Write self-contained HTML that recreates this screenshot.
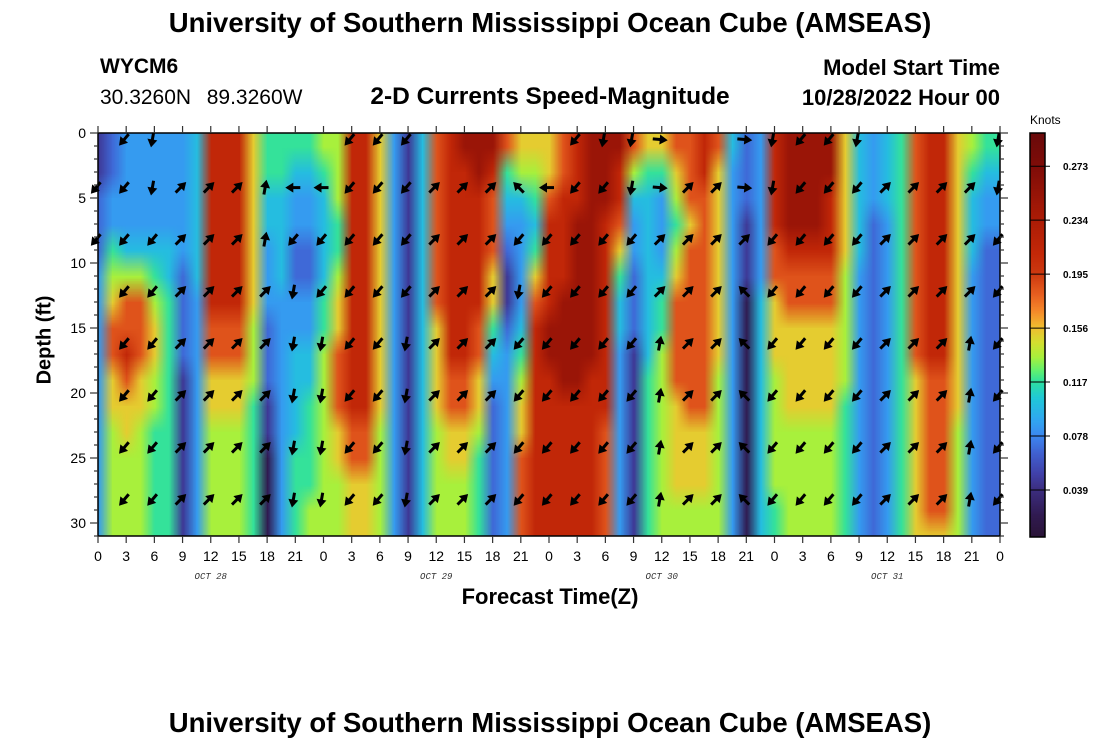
<!DOCTYPE html>
<html><head><meta charset="utf-8">
<style>
html,body{margin:0;padding:0;background:#fff;}
body{width:1100px;height:750px;position:relative;overflow:hidden;font-family:"Liberation Sans",Arial,sans-serif;color:#000;}
.t{position:absolute;white-space:nowrap;}
#clip{position:absolute;left:98px;top:133px;width:902px;height:403px;overflow:hidden;}
#heat{position:absolute;left:-7.05px;top:0;width:916.5px;height:416px;}
#cbar{position:absolute;left:1030px;top:133px;width:15px;height:404px;}
svg{position:absolute;left:0;top:0;}
</style></head><body>
<div class="t" style="left:0;width:1100px;text-align:center;top:7px;font-size:27.5px;font-weight:bold;">University of Southern Mississippi Ocean Cube (AMSEAS)</div>
<div class="t" style="left:100px;top:55px;font-size:21px;font-weight:bold;">WYCM6</div>
<div class="t" style="left:100px;top:86px;font-size:21px;word-spacing:2px;">30.3260N&nbsp;&nbsp;89.3260W</div>
<div class="t" style="left:0;width:1100px;text-align:center;top:83px;font-size:24.5px;font-weight:bold;">2-D Currents Speed-Magnitude</div>
<div class="t" style="right:100px;top:55px;font-size:22px;font-weight:bold;">Model Start Time</div>
<div class="t" style="right:100px;top:85px;font-size:22px;font-weight:bold;">10/28/2022 Hour 00</div>
<div class="t" style="left:0;width:1100px;text-align:center;top:707px;font-size:27.5px;font-weight:bold;">University of Southern Mississippi Ocean Cube (AMSEAS)</div>
<div class="t" style="left:45px;top:340px;font-size:20px;font-weight:bold;transform:translate(-50%,-50%) rotate(-90deg);">Depth (ft)</div>
<div class="t" style="left:0;width:1100px;text-align:center;top:584px;font-size:22px;font-weight:bold;">Forecast Time(Z)</div>
<div class="t" style="left:1030px;top:113px;font-size:12px;">Knots</div>
<div id="clip"><canvas id="heat" width="65" height="16"></canvas></div>
<canvas id="cbar" width="1" height="404"></canvas>
<svg id="ov" width="1100" height="750"></svg>
<script>
// speed levels (knots) indexed by code character
const levelCodes = "0123456789a";
const levelValues = [0.02,0.045,0.068,0.085,0.10,0.118,0.135,0.152,0.185,0.212,0.25];
// columns every 1.5 h (t=0..96), each string = depth rows 0-2,2-4,...,30-32 ft
const speedColumns = [
"1122233333333333","2233567887766666","3333468898776666","3333468887766666","3333456776655555",
"3333445555555555","3333322221111111","4444443333333333","9999999887766666","9999999887766666",
"9999999887766666","7777777666555555","5544333222110000","5544443333333333","5433223344445555",
"5433223344555566","6544445566666666","6665567788877666","9999999999988777","9999999999988777",
"7777777777766666","3333333333333333","1111111111111111","4444444444444444","8888888777766666",
"9999999998877666","a999999998877666","aa99999887765555","a988877543222222","8543211233333333",
"7643333456778888","7654578999999999","7789999aa9999999","889999aaaa999999","999aaaaaaa999999",
"aaaaaaaaa9999999","aaa9999999988888","a998754433333333","8643322211111111","7544444445555555",
"7533345566666666","8765678888777766","8887888888877766","9988888888877766","8777777776666666",
"4333333333333333","2221110000000000","3333334444444444","9999887776666655","aaaa988777766666",
"aaaa988777766666","aaaa988777766666","aa99988777766666","7777766666555555","4444433333333333",
"3332222222222222","4443333333333333","5555555555555555","8888888887777777","9999999998888887",
"9999999998888887","7777777777766666","6544433333333333","5433222222222222","5433222222222222"];
const columnStepHours = 1.5;
// arrows: times every 3 h, rows at depths
const arrowDepths = [0.5,4.2,8.2,12.2,16.2,20.2,24.2,28.2];
const arrowStepHours = 3;
const arrowRows = [
".AS......AAA.....ASSE..ESAAS....S",
"AASRRRNWWAAARRRGWAASERRESAAARRRRS",
"AAARRRNAAAAARRRAAAAARRRRAAAARRRRA",
".AARRRRSAAAARRRSAAAARRRGAAAARRRRA",
".AARRRRSSAASRRRAAAAANRRGAAAARRRNA",
".AARRRRSSAASRRRAAAAANRRGAAAARRRNA",
".AARRRRSSAASRRRAAAAANRRGAAAARRRNA",
".AARRRRSSAASRRRAAAAANRRGAAAARRRNA"];
const arrowAngles = {A:130,S:100,N:280,R:315,W:180,E:5,G:225};
const yTicks = [0,5,10,15,20,25,30];
const xTickLabels = ["0","3","6","9","12","15","18","21"];
const dayLabels = ["OCT 28","OCT 29","OCT 30","OCT 31"];
const cbarTicks = [0.273,0.234,0.195,0.156,0.117,0.078,0.039];

const X0=98, X1=1000, Y0=133, Y1=536, T1=96, D1=31;
const xs = t => X0 + t*(X1-X0)/T1;
const ys = d => Y0 + d*13;
const VMIN=0.005, VMAX=0.297;
const stops=[[0.005,[42,20,56]],[0.02,[48,26,80]],[0.039,[60,46,128]],[0.05,[64,64,168]],[0.065,[64,96,208]],
[0.078,[60,136,240]],[0.09,[48,168,240]],[0.105,[32,200,216]],[0.117,[46,224,160]],[0.125,[96,240,112]],
[0.135,[168,240,60]],[0.145,[210,224,48]],[0.156,[240,192,48]],[0.168,[245,138,42]],[0.18,[232,96,32]],
[0.195,[205,58,16]],[0.21,[195,40,8]],[0.234,[172,28,6]],[0.273,[127,12,8]],[0.297,[106,10,10]]];
function cmap(v){
  if(v<=stops[0][0]) return stops[0][1];
  for(let i=1;i<stops.length;i++){ if(v<=stops[i][0]){const a=stops[i-1],b=stops[i],f=(v-a[0])/(b[0]-a[0]);
    return a[1].map((c,k)=>Math.round(c+(b[1][k]-c)*f));}}
  return stops[stops.length-1][1];
}
// heatmap
const hc=document.getElementById('heat'), hx=hc.getContext('2d');
const img=hx.createImageData(speedColumns.length,16);
speedColumns.forEach((col,i)=>{ for(let j=0;j<col.length;j++){ const v=levelValues[levelCodes.indexOf(col[j])], c=cmap(v), p=(j*speedColumns.length+i)*4;
  img.data[p]=c[0];img.data[p+1]=c[1];img.data[p+2]=c[2];img.data[p+3]=255; }});
hx.putImageData(img,0,0);
hc.style.width=(speedColumns.length*columnStepHours*(X1-X0)/T1)+'px';
hc.style.left=(-columnStepHours*(X1-X0)/T1/2)+'px';
// colorbar
const cc=document.getElementById('cbar'), cx=cc.getContext('2d');
for(let y=0;y<404;y++){const v=VMAX-(VMAX-VMIN)*y/403, c=cmap(v); cx.fillStyle=`rgb(${c[0]},${c[1]},${c[2]})`; cx.fillRect(0,y,1,1);}
const cy = v => Y0 + (VMAX-v)/(VMAX-VMIN)*404;

const NS='http://www.w3.org/2000/svg', ov=document.getElementById('ov');
function mk(tag,attrs,parent){const e=document.createElementNS(NS,tag);for(const k in attrs)e.setAttribute(k,attrs[k]);(parent||ov).appendChild(e);return e;}
// arrows
const ag=mk('g',{});


arrowRows.forEach((row,r)=>{ for(let k=0;k<row.length;k++){ const ch=row[k]; if(ch==='.')continue;
  const x=xs(k*arrowStepHours)-2, y=ys(arrowDepths[r]);
  const g=mk('g',{transform:`translate(${x},${y}) rotate(${arrowAngles[ch]})`},ag);
  
  
  mk('line',{x1:-7,y1:0,x2:2,y2:0,stroke:'#000','stroke-width':3},g);
  mk('polygon',{points:'8,0 0,-5 0,5',fill:'#000'},g);
}});
// frame
const fr=mk('rect',{x:X0,y:Y0,width:X1-X0,height:Y1-Y0,fill:'none',stroke:'#000','stroke-width':1.5});


const cf=mk('rect',{x:1030,y:133,width:15,height:404,fill:'none',stroke:'#000','stroke-width':1.5});


// y ticks
for(let d=0;d<=D1;d++){const y=ys(d),L=(d%5===0)?8:4;
  mk('line',{x1:X0-L,y1:y,x2:X0,y2:y,stroke:'#333','stroke-width':1.2});
  mk('line',{x1:X1,y1:y,x2:X1+L,y2:y,stroke:'#333','stroke-width':1.2});}
yTicks.forEach(v=>{const t=mk('text',{x:86,y:ys(v)+5,'text-anchor':'end','font-size':14,'font-family':'Liberation Sans'});t.textContent=v;
  
  });
// x ticks
for(let k=0;k<=T1/3;k++){const x=xs(k*3);
  mk('line',{x1:x,y1:Y0-7,x2:x,y2:Y0,stroke:'#333','stroke-width':1.2});
  mk('line',{x1:x,y1:Y1,x2:x,y2:Y1+7,stroke:'#333','stroke-width':1.2});
  const t=mk('text',{x:x,y:561,'text-anchor':'middle','font-size':14,'font-family':'Liberation Sans'});t.textContent=xTickLabels[k%8];
  
  }
dayLabels.forEach((s,i)=>{const t=mk('text',{x:xs(i*24+12),y:579,'text-anchor':'middle','font-size':9,'font-style':'italic','font-family':'Liberation Mono',fill:'#333'});t.textContent=s;
  
  });
// colorbar ticks
cbarTicks.forEach(v=>{const y=cy(v);mk('line',{x1:1030,y1:y,x2:1050,y2:y,stroke:'#000','stroke-width':1});
  const t=mk('text',{x:1063,y:y+4,'font-size':10,'font-weight':'bold','font-family':'Liberation Sans'});t.textContent=v.toFixed(3);
  
  });
</script>
</body></html>
